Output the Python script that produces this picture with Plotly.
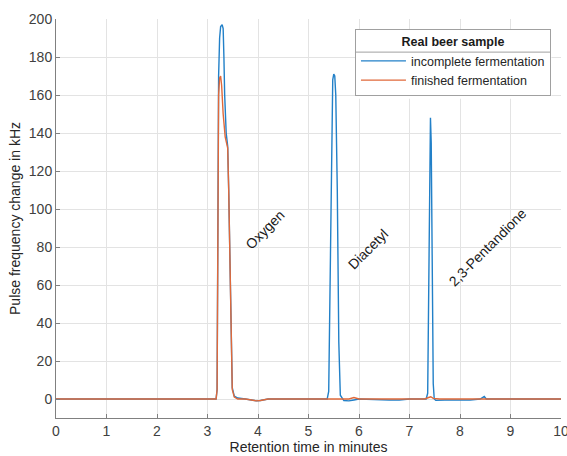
import plotly.graph_objects as go

# Incomplete fermentation (blue)
t_incomplete = [0, 3.0, 3.17, 3.19, 3.205, 3.22, 3.24, 3.26, 3.29, 3.31, 3.325, 3.34, 3.37, 3.40,
                3.42, 3.46, 3.49, 3.53, 3.6, 3.75, 3.9, 3.97, 4.05, 4.2, 5.0, 5.37, 5.40, 5.43,
                5.46, 5.48, 5.50, 5.52, 5.54, 5.57, 5.60, 5.63, 5.7, 5.8, 5.9, 6.0, 6.6, 6.8,
                7.0, 7.33, 7.36, 7.38, 7.40, 7.415, 7.43, 7.45, 7.47, 7.49, 7.52, 7.7, 8.2,
                8.4, 8.46, 8.48, 8.52, 8.6, 9.0, 10.0]
v_incomplete = [0, 0, 0, 5, 120, 170, 190, 196, 197, 195, 180, 160, 140, 133,
                110, 40, 6, 1.5, 0.5, 0, -0.5, -1, -0.8, 0, 0, 0, 4, 70,
                150, 168, 171, 170, 160, 110, 30, 2, -0.8, -1, -0.5, 0, -0.5, -0.5,
                0, 0, 3, 50, 130, 148, 135, 60, 8, 0, -0.7, -0.5, -0.5,
                0, 1.2, 1.3, 0, 0, 0, 0]

# Finished fermentation (orange)
t_finished = [0, 3.0, 3.17, 3.19, 3.20, 3.22, 3.24, 3.26, 3.28, 3.31, 3.35, 3.40, 3.42, 3.46,
              3.49, 3.53, 3.6, 3.75, 3.9, 3.97, 4.05, 4.2, 5.0, 5.8, 5.9, 6.0, 6.5, 7.0, 7.3,
              7.38, 7.42, 7.47, 7.6, 8.0, 9.0, 10.0]
v_finished = [0, 0, 0, 5, 100, 160, 169, 170, 165, 150, 138, 132, 110, 40,
              5, 1, 0, 0, -0.5, -1, -0.8, 0, 0, 0, 0.8, 0, 0, 0, 0,
              0.8, 1.2, 0.3, 0, 0, 0, 0]

series_names = ["incomplete fermentation", "finished fermentation"]
legend_title = "Real beer sample"

peak_labels = ["Oxygen", "Diacetyl", "2,3-Pentandione"]
peak_label_x = [4.13, 6.18, 8.55]
peak_label_y = [89, 79, 80]

x_ticks = list(range(0, 11))
y_ticks = list(range(0, 201, 20))

FONT = "Arial, Liberation Sans, sans-serif"

fig = go.Figure()
fig.add_trace(go.Scatter(x=t_incomplete, y=v_incomplete, mode="lines", name=series_names[0],
                         line=dict(color="#2280c8", width=1.4)))
fig.add_trace(go.Scatter(x=t_finished, y=v_finished, mode="lines", name=series_names[1],
                         line=dict(color="#e0693a", width=1.4)))

for txt, px, py in zip(peak_labels, peak_label_x, peak_label_y):
    fig.add_annotation(x=px, y=py, text=txt, showarrow=False, textangle=-45,
                       font=dict(size=14, color="#1a1a1a", family=FONT))

# white legend background and divider under legend title
fig.add_shape(type="rect", xref="paper", yref="paper", x0=0.592, x1=0.981, y0=0.80, y1=0.975,
              fillcolor="white", line=dict(width=0), layer="above")
fig.add_shape(type="line", xref="paper", yref="paper", x0=0.592, x1=0.980, y0=0.917, y1=0.917,
              line=dict(color="#a0a0a0", width=1), layer="above")

axis_common = dict(showgrid=True, gridcolor="#e3e3e3", gridwidth=1, zeroline=False,
                   showline=True, linecolor="#808080", linewidth=1,
                   ticks="inside", ticklen=4, tickcolor="#808080", automargin=False,
                   ticklabeloverflow="allow",
                   tickfont=dict(size=14, color="#404040", family=FONT))

fig.update_layout(
    width=567, height=456,
    margin=dict(l=56, r=6, t=19, b=38, autoexpand=False),
    paper_bgcolor="white", plot_bgcolor="white",
    font=dict(family=FONT, color="#262626"),
    xaxis=dict(range=[0, 10], tickvals=x_ticks,
               title=dict(text="Retention time in minutes", font=dict(size=14, color="#262626"), standoff=2),
               **axis_common),
    yaxis=dict(range=[-10, 200], tickvals=y_ticks,
               title=dict(text="Pulse frequency change in kHz", font=dict(size=14, color="#262626"), standoff=4),
               **axis_common),
    legend=dict(x=0.592, y=0.975, xanchor="left", yanchor="top",
                bgcolor="rgba(255,255,255,0)", bordercolor="#a0a0a0", borderwidth=1,
                font=dict(size=12.5, color="#262626", family=FONT),
                title=dict(text="<b>" + legend_title + "</b>", side="top center",
                           font=dict(size=12.5, color="#1a1a1a", family=FONT)),
                tracegroupgap=0, itemwidth=45),
    showlegend=True,
)

fig.write_html("out.html", config={"displayModeBar": False},
               post_script="document.body.style.margin='0';document.body.style.overflow='hidden';")
